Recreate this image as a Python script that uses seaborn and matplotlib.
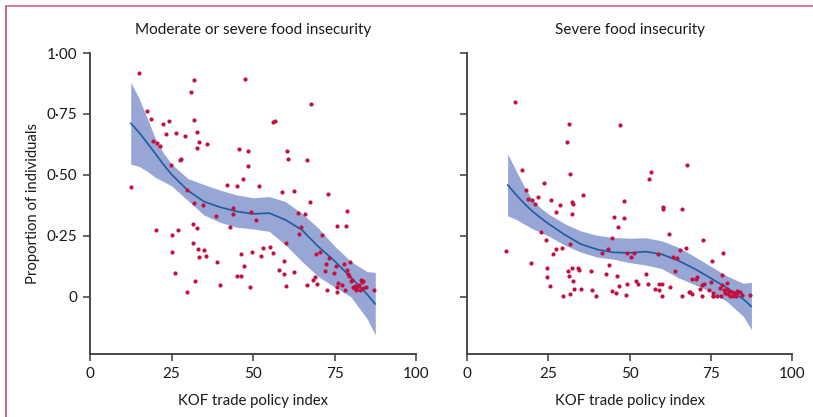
import numpy as np
import pandas as pd
import matplotlib
matplotlib.use("Agg")
import matplotlib.pyplot as plt
from matplotlib.lines import Line2D
from matplotlib.ticker import FixedLocator, FuncFormatter
import seaborn as sns

# ---------------- data ----------------
titles = ["Moderate or severe food insecurity", "Severe food insecurity"]
x_label = "KOF trade policy index"
y_label = "Proportion of individuals"
x_ticks = [0, 25, 50, 75, 100]
y_ticks = [0, 0.25, 0.50, 0.75, 1.00]

mod_x = [12.6, 15.1, 17.4, 18.8, 19.2, 20.4, 21.5, 22.3, 23.3, 24.2, 24.8, 26.4, 27.7, 27.9,
         29.1, 29.8, 31.1, 31.9, 32.0, 32.7, 32.7, 33.3, 36.0, 31.9, 34.8, 42.0, 44.0, 45.0,
         45.7, 46.9, 47.5, 48.6, 48.6, 51.8, 56.2, 56.7, 59.0, 60.5, 60.6, 62.5, 66.5, 67.6,
         67.9, 72.9, 20.3, 25.1, 25.3, 26.1, 26.9, 29.8, 31.5, 31.7, 32.1, 32.8, 33.1, 33.3,
         35.1, 35.6, 38.7, 38.9, 40.0, 43.0, 43.9, 45.0, 46.3, 46.3, 47.3, 49.2, 49.4, 49.6,
         51.0, 52.4, 53.0, 55.3, 56.2, 58.1, 59.4, 59.5, 60.1, 60.1, 62.6, 63.8, 64.1, 64.8,
         65.8, 66.6, 68.5, 69.0, 69.2, 69.5, 70.6, 71.1, 72.1, 72.5, 72.7, 73.2, 74.8, 75.4,
         75.7, 75.9, 75.9, 76.1, 77.2, 78.0, 78.1, 78.5, 78.7, 78.9, 79.1, 79.3, 79.9, 80.1,
         80.5, 80.7, 81.0, 81.3, 81.6, 82.0, 82.4, 82.8, 83.1, 83.5, 83.8, 83.6, 84.8, 87.2]
mod_y = [0.452, 0.918, 0.764, 0.730, 0.639, 0.632, 0.620, 0.709, 0.667, 0.723, 0.540, 0.673,
         0.561, 0.567, 0.660, 0.439, 0.842, 0.888, 0.724, 0.676, 0.611, 0.634, 0.626, 0.385,
         0.377, 0.459, 0.365, 0.456, 0.608, 0.485, 0.892, 0.597, 0.536, 0.455, 0.717, 0.723,
         0.429, 0.597, 0.564, 0.434, 0.560, 0.387, 0.792, 0.422, 0.272, 0.253, 0.182, 0.096,
         0.275, 0.019, 0.298, 0.220, 0.064, 0.281, 0.195, 0.165, 0.191, 0.168, 0.332, 0.143,
         0.048, 0.286, 0.340, 0.083, 0.175, 0.085, 0.128, 0.041, 0.346, 0.183, 0.314, 0.169,
         0.198, 0.205, 0.180, 0.109, 0.145, 0.094, 0.219, 0.046, 0.101, 0.343, 0.257, 0.286,
         0.340, 0.049, 0.067, 0.081, 0.175, 0.052, 0.184, 0.254, 0.107, 0.135, 0.029, 0.157,
         0.098, 0.128, 0.292, 0.040, 0.019, 0.056, 0.049, 0.135, 0.026, 0.291, 0.111, 0.351,
         0.094, 0.083, 0.142, 0.066, 0.070, 0.040, 0.036, 0.046, 0.029, 0.040, 0.049, 0.029,
         0.068, 0.060, 0.064, 0.037, 0.040, 0.029]

sev_x = [14.7, 16.8, 18.3, 18.7, 19.9, 20.9, 21.7, 23.7, 25.9, 28.6, 30.7, 31.4, 31.7, 32.2,
         32.7, 35.6, 47.0, 48.2, 56.1, 56.6, 60.4, 60.2, 66.2, 67.7, 12.0, 19.8, 22.9, 24.2,
         24.7, 24.6, 25.5, 26.6, 27.4, 27.5, 29.4, 29.3, 31.1, 31.3, 31.6, 31.7, 32.2, 32.4,
         32.7, 33.0, 34.3, 34.5, 35.1, 38.3, 38.6, 39.6, 41.5, 42.8, 43.5, 43.6, 44.6, 44.7,
         45.3, 45.9, 46.1, 46.6, 46.9, 48.2, 48.8, 49.1, 49.3, 50.6, 51.5, 51.9, 52.5, 55.0,
         55.8, 57.8, 58.7, 59.0, 59.2, 59.9, 59.9, 62.3, 62.4, 63.5, 63.9, 64.5, 65.5, 66.2,
         67.3, 68.2, 68.6, 69.1, 69.2, 70.4, 70.8, 71.8, 72.2, 72.4, 72.7, 72.9, 74.6, 75.2,
         75.4, 75.6, 75.6, 75.8, 76.8, 77.7, 78.1, 78.5, 78.5, 78.8, 79.1, 79.4, 79.9, 80.1,
         80.4, 80.7, 80.9, 81.4, 81.8, 82.5, 82.8, 83.0, 83.5, 84.0, 84.5, 87.0]
sev_y = [0.799, 0.519, 0.436, 0.399, 0.396, 0.380, 0.409, 0.467, 0.398, 0.377, 0.634, 0.710,
         0.504, 0.389, 0.381, 0.419, 0.705, 0.391, 0.485, 0.512, 0.368, 0.361, 0.361, 0.542,
         0.189, 0.138, 0.264, 0.232, 0.119, 0.081, 0.046, 0.174, 0.197, 0.346, 0.001, 0.201,
         0.105, 0.085, 0.216, 0.011, 0.341, 0.116, 0.066, 0.032, 0.119, 0.111, 0.032, 0.105,
         0.029, 0.005, 0.179, 0.094, 0.195, 0.131, 0.242, 0.025, 0.329, 0.015, 0.083, 0.286,
         0.046, 0.324, 0.007, 0.179, 0.052, 0.161, 0.179, 0.063, 0.052, 0.094, 0.052, 0.032,
         0.176, 0.029, 0.053, 0.053, 0.001, 0.257, 0.038, 0.161, 0.104, 0.157, 0.193, 0.003,
         0.200, 0.019, 0.019, 0.074, 0.011, 0.074, 0.079, 0.032, 0.050, 0.004, 0.231, 0.052,
         0.029, 0.061, 0.148, 0.015, 0.004, 0.001, 0.004, 0.036, 0.004, 0.090, 0.049, 0.178,
         0.029, 0.015, 0.056, 0.032, 0.012, 0.022, 0.004, 0.018, 0.004, 0.015, 0.001, 0.022,
         0.018, 0.020, 0.008, 0.008]

# fitted curve and 95% band, read at the x positions below
fit_x = [12.5, 15, 17.5, 20, 22.5, 25, 30, 35, 40, 45, 50, 55, 60, 65, 70, 75, 80, 85, 87.5]
mod_fit = [0.712, 0.675, 0.632, 0.588, 0.543, 0.502, 0.436, 0.390, 0.367, 0.350, 0.340,
           0.343, 0.315, 0.274, 0.206, 0.147, 0.080, 0.010, -0.030]
mod_hi = [0.880, 0.815, 0.735, 0.650, 0.590, 0.545, 0.485, 0.460, 0.437, 0.418, 0.406,
          0.411, 0.390, 0.342, 0.282, 0.208, 0.145, 0.103, 0.100]
mod_lo = [0.544, 0.535, 0.515, 0.490, 0.473, 0.455, 0.395, 0.335, 0.305, 0.285, 0.278,
          0.268, 0.212, 0.145, 0.083, 0.040, 0.000, -0.090, -0.156]
sev_fit = [0.459, 0.420, 0.384, 0.352, 0.325, 0.300, 0.255, 0.216, 0.194, 0.182, 0.180,
           0.185, 0.174, 0.148, 0.115, 0.076, 0.036, -0.010, -0.040]
sev_hi = [0.586, 0.520, 0.455, 0.400, 0.366, 0.340, 0.300, 0.270, 0.252, 0.243, 0.240,
          0.242, 0.229, 0.203, 0.165, 0.125, 0.085, 0.055, 0.059]
sev_lo = [0.332, 0.318, 0.299, 0.280, 0.265, 0.250, 0.212, 0.183, 0.163, 0.154, 0.140,
          0.130, 0.115, 0.078, 0.050, 0.020, -0.020, -0.080, -0.135]

# ---------------- style ----------------
sns.set_style("ticks")
plt.rcParams["font.family"] = ["Lato", "DejaVu Sans"]

point_col = "#c5103f"
line_col = "#1f5c9e"
band_col = "#97a6d4"
axis_col = "#3c3c3c"
border_col = "#d9607f"

fig = plt.figure(figsize=(8.13, 4.17), dpi=100)
W, H = 813, 417
ax_l = fig.add_axes([90 / W, 1 - 354 / H, 326 / W, 301 / H])
ax_r = fig.add_axes([467 / W, 1 - 354 / H, 325 / W, 301 / H])

panels = [
    (ax_l, mod_x, mod_y, mod_fit, mod_lo, mod_hi, titles[0]),
    (ax_r, sev_x, sev_y, sev_fit, sev_lo, sev_hi, titles[1]),
]

def fmt(v, pos):
    if abs(v) < 1e-9:
        return "0"
    return f"{v:.2f}".replace(".", "\u00b7")

for i, (ax, xs, ys, fit, lo, hi, title) in enumerate(panels):
    ax.fill_between(fit_x, lo, hi, color=band_col, linewidth=0, zorder=1)
    sns.lineplot(x=fit_x, y=fit, ax=ax, color=line_col, linewidth=1.2, zorder=2)
    sns.scatterplot(x=xs, y=ys, ax=ax, color=point_col, s=9, linewidth=0, zorder=3)
    ax.set_xlim(0, 100)
    ax.set_ylim(-0.235, 1.0)
    ax.xaxis.set_major_locator(FixedLocator(x_ticks))
    ax.yaxis.set_major_locator(FixedLocator(y_ticks))
    ax.yaxis.set_major_formatter(FuncFormatter(fmt))
    for side in ("top", "right"):
        ax.spines[side].set_visible(False)
    for side in ("left", "bottom"):
        ax.spines[side].set_color(axis_col)
        ax.spines[side].set_linewidth(1.3)
    ax.tick_params(direction="out", length=5, width=1.1, color=axis_col,
                   labelsize=11, labelcolor="#1a1a1a", pad=4)
    ax.set_title(title, fontsize=11, color="#1a1a1a", pad=14)
    ax.set_xlabel(x_label, fontsize=10.7, color="#1a1a1a", labelpad=10)
    if i == 0:
        ax.set_ylabel(y_label, fontsize=10.7, color="#1a1a1a", labelpad=5)
    else:
        ax.set_ylabel("")
        ax.tick_params(axis="y", labelleft=False)

# decorative frame lines (top and left)
fig.add_artist(Line2D([6 / W, 1.0], [1 - 6 / H, 1 - 6 / H], color=border_col, linewidth=1.2,
                      transform=fig.transFigure))
fig.add_artist(Line2D([6 / W, 6 / W], [0, 1 - 6 / H], color=border_col, linewidth=1.4,
                      transform=fig.transFigure))

fig.savefig("out.png", dpi=100)
